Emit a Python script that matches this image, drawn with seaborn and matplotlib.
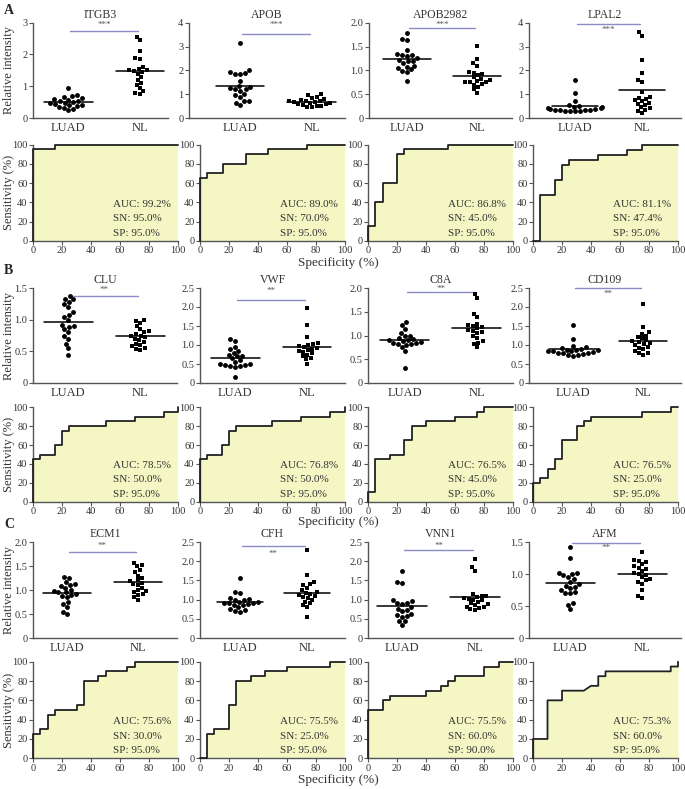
import warnings
import numpy as np
import pandas as pd
import matplotlib
matplotlib.use("Agg")
import matplotlib.pyplot as plt
import seaborn as sns

warnings.filterwarnings("ignore")

sns.set_theme(style="ticks")
plt.rcParams['font.family'] = ['Liberation Serif', 'DejaVu Serif']

# ---------------- data ----------------
genes = ['ITGB3', 'APOB', 'APOB2982', 'LPAL2',
         'CLU', 'VWF', 'C8A', 'CD109',
         'ECM1', 'CFH', 'VNN1', 'AFM']
groups = ['LUAD', 'NL']
stars = ['***', '***', '***', '***', '**', '**', '**', '**', '**', '**', '**', '**']

itgb3_luad = [0.95, 0.72, 0.68, 0.65, 0.62, 0.60, 0.58, 0.55, 0.52, 0.50, 0.48, 0.47, 0.45, 0.42, 0.40, 0.38, 0.35, 0.32, 0.28, 0.25]
itgb3_nl = [2.55, 2.45, 2.10, 1.90, 1.85, 1.60, 1.55, 1.50, 1.50, 1.48, 1.45, 1.40, 1.30, 1.20, 1.10, 1.05, 0.95, 0.85, 0.80, 0.75]
apob_luad = [3.15, 2.00, 1.95, 1.90, 1.85, 1.85, 1.55, 1.35, 1.30, 1.25, 1.20, 1.20, 1.15, 1.00, 0.95, 0.90, 0.70, 0.70, 0.65, 0.55]
apob_nl = [1.00, 0.95, 0.90, 0.85, 0.80, 0.75, 0.72, 0.70, 0.70, 0.68, 0.66, 0.65, 0.63, 0.60, 0.58, 0.55, 0.52, 0.50, 0.48, 0.45]
apob2982_luad = [1.78, 1.65, 1.64, 1.42, 1.35, 1.33, 1.32, 1.30, 1.25, 1.22, 1.20, 1.20, 1.15, 1.10, 1.08, 1.05, 1.02, 0.98, 0.96, 0.78]
apob2982_nl = [1.52, 1.24, 1.16, 1.10, 0.97, 0.95, 0.93, 0.90, 0.85, 0.82, 0.80, 0.78, 0.76, 0.75, 0.75, 0.72, 0.70, 0.65, 0.60, 0.52]
lpal2_luad = [1.60, 1.05, 0.70, 0.55, 0.50, 0.48, 0.45, 0.42, 0.40, 0.38, 0.38, 0.35, 0.35, 0.33, 0.32, 0.30, 0.30, 0.30, 0.28]
lpal2_nl = [3.60, 3.45, 2.45, 1.90, 1.60, 1.50, 1.10, 0.90, 0.85, 0.80, 0.75, 0.70, 0.65, 0.60, 0.55, 0.45, 0.40, 0.35, 0.30, 0.20]
clu_luad = [1.37, 1.33, 1.32, 1.28, 1.25, 1.20, 1.12, 1.08, 1.05, 1.00, 0.92, 0.90, 0.88, 0.85, 0.80, 0.75, 0.70, 0.62, 0.55, 0.45]
clu_nl = [1.00, 0.98, 0.95, 0.90, 0.85, 0.82, 0.80, 0.78, 0.75, 0.75, 0.72, 0.70, 0.68, 0.65, 0.62, 0.60, 0.58, 0.55, 0.54, 0.52]
vwf_luad = [1.15, 1.10, 0.95, 0.90, 0.85, 0.80, 0.75, 0.72, 0.70, 0.65, 0.60, 0.55, 0.50, 0.50, 0.48, 0.47, 0.45, 0.45, 0.42, 0.17]
vwf_nl = [1.97, 1.52, 1.20, 1.05, 1.02, 1.00, 0.98, 0.95, 0.92, 0.90, 0.88, 0.85, 0.82, 0.78, 0.75, 0.70, 0.65, 0.62, 0.50]
c8a_luad = [1.28, 1.22, 1.14, 1.05, 1.00, 0.98, 0.95, 0.92, 0.90, 0.90, 0.88, 0.86, 0.85, 0.84, 0.83, 0.82, 0.80, 0.75, 0.67, 0.32]
c8a_nl = [1.87, 1.78, 1.45, 1.38, 1.25, 1.22, 1.20, 1.18, 1.15, 1.12, 1.10, 1.08, 1.05, 1.00, 0.95, 0.88, 0.85, 0.82, 0.75]
cd109_luad = [1.52, 1.15, 0.98, 0.95, 0.92, 0.90, 0.88, 0.88, 0.86, 0.85, 0.85, 0.84, 0.82, 0.80, 0.80, 0.78, 0.76, 0.75, 0.74, 0.72]
cd109_nl = [2.07, 1.48, 1.35, 1.30, 1.25, 1.22, 1.18, 1.12, 1.10, 1.08, 1.05, 1.02, 1.00, 0.95, 0.92, 0.90, 0.85, 0.80, 0.78, 0.75]
ecm1_luad = [1.28, 1.24, 1.16, 1.12, 1.10, 1.08, 1.05, 1.00, 0.98, 0.95, 0.95, 0.92, 0.90, 0.88, 0.85, 0.75, 0.70, 0.65, 0.55, 0.50]
ecm1_nl = [1.57, 1.52, 1.50, 1.42, 1.38, 1.30, 1.25, 1.20, 1.18, 1.15, 1.12, 1.10, 1.05, 1.00, 0.98, 0.95, 0.92, 0.90, 0.85, 0.80]
cfh_luad = [1.55, 1.20, 1.17, 1.05, 1.02, 1.00, 0.98, 0.95, 0.93, 0.92, 0.90, 0.90, 0.88, 0.86, 0.85, 0.80, 0.75, 0.72, 0.70, 0.68]
cfh_nl = [2.28, 1.65, 1.45, 1.40, 1.38, 1.30, 1.25, 1.20, 1.18, 1.15, 1.12, 1.10, 1.08, 1.05, 1.00, 0.95, 0.90, 0.85, 0.80, 0.55]
vnn1_luad = [1.75, 1.45, 1.42, 0.98, 0.97, 0.92, 0.90, 0.88, 0.80, 0.75, 0.72, 0.70, 0.62, 0.60, 0.58, 0.55, 0.45, 0.44, 0.34]
vnn1_nl = [2.05, 1.85, 1.75, 1.15, 1.10, 1.10, 1.08, 1.05, 1.02, 1.00, 0.98, 0.95, 0.90, 0.88, 0.85, 0.82, 0.80, 0.78, 0.75, 0.72]
afm_luad = [1.42, 1.25, 1.02, 1.02, 1.00, 0.98, 0.95, 0.92, 0.88, 0.85, 0.82, 0.80, 0.78, 0.75, 0.72, 0.70, 0.70, 0.55, 0.52, 0.45]
afm_nl = [1.35, 1.22, 1.20, 1.18, 1.15, 1.12, 1.10, 1.08, 1.05, 1.02, 1.00, 0.98, 0.95, 0.92, 0.90, 0.88, 0.85, 0.75, 0.65, 0.62]

# ROC curves: specificity axis (x) and sensitivity (y), vertices in %
itgb3_roc_x = [0, 0, 15, 15, 100]
itgb3_roc_y = [0, 95, 95, 100, 100]
apob_roc_x = [0, 0, 5, 5, 16, 16, 32, 32, 47, 47, 74, 74, 100]
apob_roc_y = [0, 65, 65, 70, 70, 80, 80, 90, 90, 95, 95, 100, 100]
apob2982_roc_x = [0, 0, 5, 5, 10, 10, 20, 20, 25, 25, 55, 55, 100]
apob2982_roc_y = [0, 15, 15, 40, 40, 60, 60, 90, 90, 95, 95, 100, 100]
lpal2_roc_x = [0, 5, 5, 15, 15, 20, 20, 25, 25, 45, 45, 65, 65, 75, 75, 100]
lpal2_roc_y = [0, 0, 47.4, 47.4, 63.2, 63.2, 78.9, 78.9, 84.2, 84.2, 89.5, 89.5, 94.7, 94.7, 100, 100]
clu_roc_x = [0, 0, 5, 5, 15, 15, 20, 20, 25, 25, 50, 50, 70, 70, 90, 90, 100, 100]
clu_roc_y = [0, 45, 45, 50, 50, 60, 60, 75, 75, 80, 80, 85, 85, 90, 90, 95, 95, 100]
vwf_roc_x = [0, 0, 5, 5, 15, 15, 20, 20, 25, 25, 50, 50, 70, 70, 90, 90, 100, 100]
vwf_roc_y = [0, 45, 45, 50, 50, 60, 60, 75, 75, 80, 80, 85, 85, 90, 90, 95, 95, 100]
c8a_roc_x = [0, 0, 5, 5, 15, 15, 25, 25, 30, 30, 40, 40, 60, 60, 75, 75, 80, 80, 100]
c8a_roc_y = [0, 10, 10, 45, 45, 50, 50, 65, 65, 80, 80, 85, 85, 90, 90, 95, 95, 100, 100]
cd109_roc_x = [0, 0, 5, 5, 10, 10, 15, 15, 20, 20, 30, 30, 35, 35, 40, 40, 75, 75, 95, 95, 100]
cd109_roc_y = [0, 20, 20, 25, 25, 35, 35, 45, 45, 65, 65, 80, 80, 85, 85, 90, 90, 95, 95, 100, 100]
ecm1_roc_x = [0, 0, 5, 5, 10, 10, 15, 15, 30, 30, 35, 35, 45, 45, 50, 50, 65, 65, 70, 70, 100]
ecm1_roc_y = [0, 25, 25, 30, 30, 45, 45, 50, 50, 55, 55, 80, 80, 85, 85, 90, 90, 95, 95, 100, 100]
cfh_roc_x = [0, 5, 5, 10, 10, 20, 20, 25, 25, 35, 35, 45, 45, 60, 60, 90, 90, 100]
cfh_roc_y = [0, 0, 25, 25, 30, 30, 55, 55, 80, 80, 85, 85, 90, 90, 95, 95, 100, 100]
vnn1_roc_x = [0, 0, 10, 10, 15, 15, 40, 40, 50, 50, 55, 55, 60, 60, 80, 80, 90, 90, 100]
vnn1_roc_y = [0, 50, 50, 60, 60, 65, 65, 70, 70, 75, 75, 80, 80, 85, 85, 95, 95, 100, 100]
afm_roc_x = [0, 0, 10, 10, 20, 20, 35, 40, 45, 45, 50, 50, 95, 95, 100, 100]
afm_roc_y = [0, 20, 20, 60, 60, 70, 70, 75, 75, 85, 85, 90, 90, 95, 95, 100]

auc = [99.2, 89.0, 86.8, 81.1, 78.5, 76.8, 76.5, 76.5, 75.6, 75.5, 75.5, 75.3]
sn = [95.0, 70.0, 45.0, 47.4, 50.0, 50.0, 45.0, 25.0, 30.0, 25.0, 60.0, 60.0]
sp = [95.0, 95.0, 95.0, 95.0, 95.0, 95.0, 95.0, 95.0, 95.0, 95.0, 90.0, 95.0]

luad_vals = [itgb3_luad, apob_luad, apob2982_luad, lpal2_luad, clu_luad, vwf_luad,
             c8a_luad, cd109_luad, ecm1_luad, cfh_luad, vnn1_luad, afm_luad]
nl_vals = [itgb3_nl, apob_nl, apob2982_nl, lpal2_nl, clu_nl, vwf_nl,
           c8a_nl, cd109_nl, ecm1_nl, cfh_nl, vnn1_nl, afm_nl]
roc_xs = [itgb3_roc_x, apob_roc_x, apob2982_roc_x, lpal2_roc_x, clu_roc_x, vwf_roc_x,
          c8a_roc_x, cd109_roc_x, ecm1_roc_x, cfh_roc_x, vnn1_roc_x, afm_roc_x]
roc_ys = [itgb3_roc_y, apob_roc_y, apob2982_roc_y, lpal2_roc_y, clu_roc_y, vwf_roc_y,
          c8a_roc_y, cd109_roc_y, ecm1_roc_y, cfh_roc_y, vnn1_roc_y, afm_roc_y]

# ---------------- layout (pixels) ----------------
W, H = 685, 789
ymax = [3, 4, 2, 4, 1.5, 2.5, 2, 2.5, 2, 2.5, 2.5, 1.5]
ystep = [1, 1, 0.5, 1, 0.5, 0.5, 0.5, 0.5, 0.5, 0.5, 0.5, 0.5]

dot_rows = [(22.7, 118), (288, 383), (542, 638)]
roc_rows = [(144.7, 240.7), (407.3, 501.7), (661.7, 758.3)]
dot_cols = [[(33, 168), (189, 345), (369, 512), (529, 681)],
            [(33, 177), (200, 345), (368, 513), (529, 681)],
            [(33, 177), (200, 345), (368, 513), (529, 681)]]
dot_xlim = [(-0.49, 1.39), (-0.71, 1.46), (-0.54, 1.50), (-0.69, 1.58),
            (-0.49, 1.51), (-0.49, 1.53), (-0.51, 1.50), (-0.63, 1.54),
            (-0.48, 1.55), (-0.60, 1.57), (-0.47, 1.52), (-0.57, 1.54)]
roc_cols = [(33, 178), (200, 345), (368, 513), (533, 678)]
bar_y = [0.913, 0.88, 0.94, 0.986, 0.92, 0.877, 0.955, 1.0, 0.90, 0.96, 0.92, 0.99]
star_y = [0.976, 0.976, 0.976, 0.92, 0.98, 0.965, 0.99, 0.937, 0.96, 0.88, 0.96, 0.935]

fill_col = '#f4f7c3'
axis_col = '#555555'
text_col = '#333333'

fig = plt.figure(figsize=(W / 100, H / 100), dpi=100)


def px_axes(left, right, top, bottom):
    return fig.add_axes([left / W, 1 - bottom / H, (right - left) / W, (bottom - top) / H])


def style_axes(ax):
    for s in ['top', 'right']:
        ax.spines[s].set_visible(False)
    for s in ['left', 'bottom']:
        ax.spines[s].set_color(axis_col)
        ax.spines[s].set_linewidth(1.0)
    ax.tick_params(axis='both', length=3, width=0.8, color=axis_col,
                   labelsize=7.5, labelcolor=text_col, pad=1)


def fmt_tick(v, step):
    if v == 0:
        return '0'
    return f'{v:.1f}' if step < 1 else f'{int(round(v))}'


for i, gene in enumerate(genes):
    r, c = divmod(i, 4)

    # ---- scatter dot plot ----
    left, right = dot_cols[r][c]
    top, bottom = dot_rows[r]
    ax = px_axes(left, right, top, bottom)
    df = pd.DataFrame({'group': ['LUAD'] * len(luad_vals[i]) + ['NL'] * len(nl_vals[i]),
                       'value': luad_vals[i] + nl_vals[i]})
    sns.swarmplot(data=df[df['group'] == 'LUAD'], x='group', y='value', order=groups,
                  marker='o', color='black', size=3.5, ax=ax)
    sns.swarmplot(data=df[df['group'] == 'NL'], x='group', y='value', order=groups,
                  marker='s', color='black', size=3.3, ax=ax)
    for k, g in enumerate(groups):
        m = df.loc[df['group'] == g, 'value'].mean()
        ax.plot([k - 0.34, k + 0.34], [m, m], color='black', lw=1.1, zorder=4)
    ax.set_xlim(*dot_xlim[i])
    ax.set_ylim(0, ymax[i])
    yt = np.arange(0, ymax[i] + 1e-9, ystep[i])
    ax.set_yticks(yt)
    ax.set_yticklabels([fmt_tick(v, ystep[i]) for v in yt])
    ax.set_xlabel('')
    ax.set_ylabel('')
    style_axes(ax)
    ax.tick_params(axis='x', length=0, labelsize=9, pad=3)
    ax.set_title(gene, fontsize=8.5, color=text_col, pad=3.5)
    tr = ax.get_xaxis_transform()
    ax.plot([0.03, 0.97], [bar_y[i], bar_y[i]], color='#8c8cc8', lw=1.0,
            transform=tr, clip_on=False)
    ax.text(0.5, star_y[i], stars[i], transform=tr, ha='center', va='center',
            fontsize=6.5, color='#555555')

    # ---- ROC curve ----
    left, right = roc_cols[c]
    top, bottom = roc_rows[r]
    ax2 = px_axes(left, right, top, bottom)
    ax2.fill_between(roc_xs[i], roc_ys[i], 0, color=fill_col, lw=0, zorder=1)
    sns.lineplot(x=roc_xs[i], y=roc_ys[i], sort=False, estimator=None,
                 color='#222222', lw=1.3, ax=ax2, zorder=3)
    for ln in ax2.lines:
        ln.set_clip_on(False)
    ax2.set_xlim(0, 100)
    ax2.set_ylim(0, 100)
    ax2.set_xticks(range(0, 101, 20))
    ax2.set_yticks(range(0, 101, 20))
    ax2.set_xlabel('')
    ax2.set_ylabel('')
    style_axes(ax2)
    for yy, txt in zip([38, 23, 8], [f'AUC: {auc[i]:.1f}%', f'SN: {sn[i]:.1f}%', f'SP: {sp[i]:.1f}%']):
        ax2.text(55, yy, txt, fontsize=8, color=text_col, va='center', ha='left', zorder=5)

# ---------------- labels ----------------
for r in range(3):
    top, bottom = dot_rows[r]
    fig.text(9 / W, 1 - (top + bottom) / 2 / H, 'Relative intensity', rotation=90,
             ha='center', va='center', fontsize=9, color=text_col)
    top, bottom = roc_rows[r]
    fig.text(9 / W, 1 - (top + bottom) / 2 / H, 'Sensitivity (%)', rotation=90,
             ha='center', va='center', fontsize=9, color=text_col)

for lab, ypx in zip(['A', 'B', 'C'], [10, 270, 525]):
    fig.text(4 / W, 1 - ypx / H, lab, fontsize=10, fontweight='bold', ha='left', va='center')

for ypx in [263, 522, 780]:
    fig.text(338 / W, 1 - ypx / H, 'Specificity (%)', fontsize=9.5, ha='center',
             va='center', color=text_col)

fig.savefig('out.png', dpi=100)
